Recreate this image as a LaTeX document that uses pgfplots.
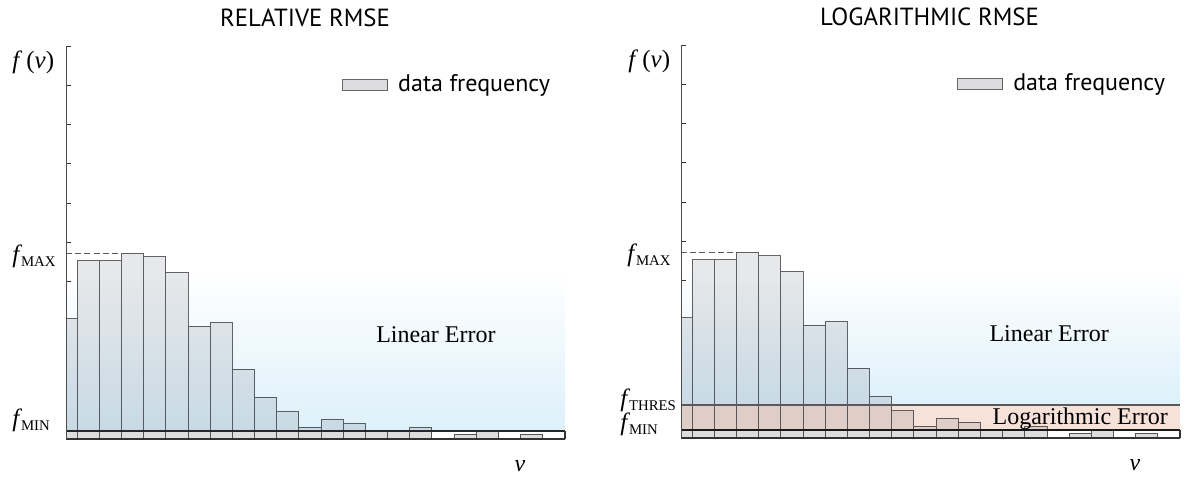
\documentclass[border=0pt]{standalone}
\usepackage{fontspec}
\setmainfont{Liberation Serif}
\newfontfamily\titlefont{PT Sans}
\usepackage{pgfplots}
\usepackage{pgfplotstable}
\pgfplotsset{compat=1.18}

\definecolor{barfill}{RGB}{231,232,234}
\definecolor{barlow}{RGB}{221,221,223}
\definecolor{baredge}{RGB}{105,105,108}
\definecolor{linblue}{RGB}{221,240,250}
\definecolor{logpink}{RGB}{247,226,218}

% f label with a small upright subscript
\newcommand\fl[1]{{\fontsize{12.5pt}{14pt}\selectfont\textit{f}\kern-0.6pt\raisebox{-0.4ex}{\fontsize{7.4pt}{8pt}\selectfont #1}}}

% histogram: bin, frequency, part below f_MIN
\pgfplotstableread{
bin freq low
0 3.06 0.20
1 4.54 0.20
2 4.54 0.20
3 4.73 0.20
4 4.64 0.20
5 4.24 0.20
6 2.87 0.20
7 2.97 0.20
8 1.78 0.20
9 1.06 0.20
10 0.69 0.20
11 0.30 0.20
12 0.50 0.20
13 0.40 0.20
14 0.20 0.20
15 0.20 0.20
16 0.30 0.20
17 0 0
18 0.12 0.12
19 0.20 0.20
20 0 0
21 0.12 0.12
22 0 0
}\histdata

\tikzset{
  flabel/.style={anchor=west, inner sep=0pt},
  fvlabel/.style={anchor=west, inner sep=0pt, font=\fontsize{12.5pt}{14pt}\selectfont},
  titletext/.style={font=\titlefont\fontsize{12.4pt}{14pt}\selectfont},
}

\pgfplotsset{
  errpanel/.style={
    scale only axis,
    clip mode=individual,
    width=249.5pt, height=196.5pt,
    xmin=0, xmax=22.5, ymin=0, ymax=10,
    axis lines*=left,
    axis line style={-},
    x axis line style={line width=1pt, black!80},
    y axis line style={line width=0.5pt, black!70},
    xtick=\empty,
    ytick={4,...,10}, yticklabels={,,,,,,},
    tick align=inside, major tick length=2.5pt,
    tick style={black!80, line width=0.5pt},
    axis on top,
    legend style={draw=none, fill=none, at={(0.553,0.901)}, anchor=west,
      inner sep=0pt, font=\titlefont\fontsize{12pt}{13pt}\selectfont,
      /tikz/every odd column/.append style={column sep=3pt}},
    legend cell align=left,
  },
  histbar/.style={ybar, bar width=1, bar shift=0pt, fill=barfill, draw=baredge,
    line width=0.45pt, blend mode=multiply},
  lowbar/.style={ybar, bar width=1, bar shift=0pt, fill=barlow, draw=baredge!80!black,
    line width=0.45pt, forget plot},
}

\begin{document}
\begin{tikzpicture}
\useasboundingbox (-33pt,-19.5pt) rectangle (560pt,219.5pt);

% ---------------- relative RMSE ----------------
\begin{axis}[errpanel, at={(0pt,0pt)}]
  \fill[top color=white, bottom color=linblue] (axis cs:0,0.2) rectangle (axis cs:22.5,4.25);
  \addplot[histbar,
    legend image code/.code={\draw[fill=barlow, draw=baredge, line width=0.45pt] (0pt,-2.6pt) rectangle (22.5pt,2.6pt);}]
    table[x=bin, y=freq] {\histdata};
  \addlegendentry{data frequency}
  \addplot[lowbar] table[x=bin, y=low] {\histdata};
  \draw[line width=0.8pt, black!85] (axis cs:0,0.2) -- (axis cs:22.5,0.2);
  \draw[line width=0.6pt, black!80] (axis cs:22.5,0) -- (axis cs:22.5,0.2);
  \draw[dash pattern=on 3pt off 1.6pt, line width=0.5pt, black!65] (axis cs:0,4.73) -- (axis cs:2.5,4.73);
  \node[font=\fontsize{12pt}{14pt}\selectfont] at (axis cs:16.68,2.65) {Linear Error};
  \node[flabel, xshift=-27pt, yshift=-1.5pt] at (axis cs:0,4.73) {\fl{MAX}};
  \node[flabel, xshift=-27pt, yshift=5.5pt] at (axis cs:0,0.2) {\fl{MIN}};
  \node[fvlabel, xshift=-27pt, yshift=-8pt] at (rel axis cs:0,1) {\textit{f}\,(\textit{v})};
  \node[font=\fontsize{12pt}{14pt}\selectfont\itshape, yshift=-13.5pt] at (axis cs:20.47,0) {v};
  \node[titletext] at (rel axis cs:0.479,1.071) {RELATIVE RMSE};
\end{axis}

% ---------------- logarithmic RMSE ----------------
\begin{axis}[errpanel, at={(307.5pt,0.5pt)}]
  \fill[top color=white, bottom color=linblue] (axis cs:0,0.84) rectangle (axis cs:22.5,4.25);
  \fill[logpink] (axis cs:0,0.2) rectangle (axis cs:22.5,0.84);
  \addplot[histbar,
    legend image code/.code={\draw[fill=barlow, draw=baredge, line width=0.45pt] (0pt,-2.6pt) rectangle (22.5pt,2.6pt);}]
    table[x=bin, y=freq] {\histdata};
  \addlegendentry{data frequency}
  \addplot[lowbar] table[x=bin, y=low] {\histdata};
  \draw[line width=0.6pt, black!65] (axis cs:0,0.84) -- (axis cs:22.5,0.84);
  \draw[line width=0.9pt, black!90] (axis cs:0,0.2) -- (axis cs:22.5,0.2);
  \draw[line width=0.6pt, black!80] (axis cs:22.5,0) -- (axis cs:22.5,0.2);
  \draw[dash pattern=on 3pt off 1.6pt, line width=0.5pt, black!65] (axis cs:0,4.73) -- (axis cs:2.5,4.73);
  \node[font=\fontsize{12pt}{14pt}\selectfont] at (axis cs:16.6,2.65) {Linear Error};
  \node[anchor=east, font=\fontsize{12pt}{14pt}\selectfont] at (axis cs:22.27,0.5) {Logarithmic Error};
  \node[flabel, xshift=-27pt, yshift=-1.5pt] at (axis cs:0,4.73) {\fl{MAX}};
  \node[flabel, xshift=-30.5pt, yshift=2.5pt] at (axis cs:0,0.84) {\fl{THRES}};
  \node[flabel, xshift=-30.5pt, yshift=3pt] at (axis cs:0,0.2) {\fl{MIN}};
  \node[fvlabel, xshift=-26.5pt, yshift=-8pt] at (rel axis cs:0,1) {\textit{f}\,(\textit{v})};
  \node[font=\fontsize{12pt}{14pt}\selectfont\itshape, yshift=-13.5pt] at (axis cs:20.47,0) {v};
  \node[titletext] at (rel axis cs:0.498,1.071) {LOGARITHMIC RMSE};
\end{axis}
\end{tikzpicture}
\end{document}
